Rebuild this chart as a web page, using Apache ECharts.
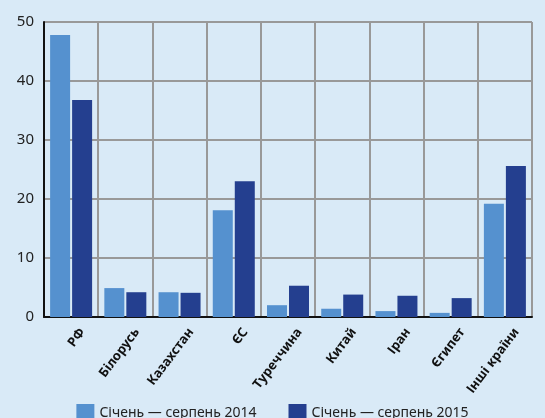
<!DOCTYPE html>
<html>
<head>
<meta charset="utf-8">
<script src="https://cdn.jsdelivr.net/npm/echarts@6/dist/echarts.min.js"></script>
<style>
  html, body { margin: 0; padding: 0; background: #d9eaf7; }
  #chart { width: 545px; height: 418px; }
</style>
</head>
<body>
<div id="chart"></div>
<script>
const categories = ['РФ', 'Білорусь', 'Казахстан', 'ЄС', 'Туреччина', 'Китай', 'Іран', 'Єгипет', 'Інші країни'];
const series2014 = [47.8, 4.9, 4.2, 18.1, 2.0, 1.4, 1.0, 0.7, 19.2];
const series2015 = [36.8, 4.2, 4.1, 23.0, 5.3, 3.8, 3.6, 3.2, 25.6];
const seriesNames = ['Січень — серпень 2014', 'Січень — серпень 2015'];

const chart = echarts.init(document.getElementById('chart'));

chart.setOption({
  backgroundColor: '#d9eaf7',
  textStyle: { fontFamily: 'Noto Sans' },
  grid: { left: 44, right: 13, top: 22, bottom: 101 },
  legend: {
    top: 399,
    left: 'center',
    itemWidth: 18,
    itemHeight: 18,
    itemGap: 32,
    icon: 'rect',
    textStyle: { fontSize: 14, color: '#222' },
    data: seriesNames
  },
  xAxis: {
    type: 'category',
    data: categories,
    axisLine: { lineStyle: { color: '#111', width: 2 } },
    axisTick: { show: false },
    splitLine: { show: true, lineStyle: { color: '#999', width: 2 } },
    axisLabel: {
      rotate: 53,
      interval: 0,
      margin: 4,
      verticalAlign: 'top',
      padding: [8, 0, 0, 0],
      fontSize: 13,
      fontWeight: 'bold',
      color: '#111'
    }
  },
  yAxis: {
    type: 'value',
    min: 0,
    max: 50,
    interval: 10,
    axisLine: { show: true, lineStyle: { color: '#111', width: 2 } },
    axisTick: { show: false },
    splitLine: { lineStyle: { color: '#999', width: 2 } },
    axisLabel: { fontSize: 15, color: '#222', margin: 10 }
  },
  series: [
    {
      name: seriesNames[0],
      type: 'bar',
      data: series2014,
      barWidth: 20,
      barGap: '10%',
      itemStyle: { color: '#5591cf' }
    },
    {
      name: seriesNames[1],
      type: 'bar',
      data: series2015,
      barWidth: 20,
      itemStyle: { color: '#243f8f' }
    }
  ]
});
</script>
</body>
</html>
